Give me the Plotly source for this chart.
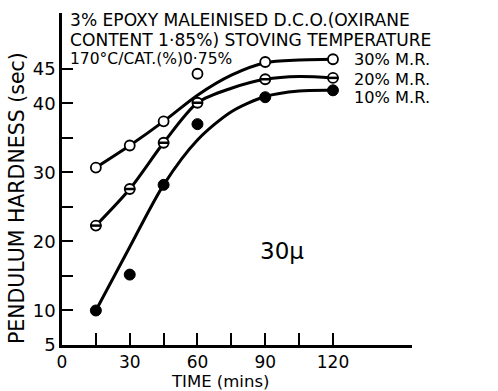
import plotly.graph_objects as go

# ---- data ----
time = [15, 30, 45, 60, 90, 120]
mr30 = [30.7, 33.9, 37.4, 44.3, 46.0, 46.4]
mr20 = [22.3, 27.6, 34.3, 40.1, 43.5, 43.7]
mr10 = [10.0, 15.2, 28.2, 37.0, 40.9, 41.9]

# hand-drawn smooth curves
curve_t = [15, 30, 45, 60, 75, 90, 105, 120]
curve30 = [30.7, 33.9, 37.4, 41.2, 44.1, 45.9, 46.3, 46.4]
curve20 = [22.3, 27.6, 34.3, 40.1, 42.2, 43.5, 43.9, 43.7]
curve10 = [10.0, 19.2, 28.2, 34.7, 38.8, 41.0, 41.8, 41.9]

x_ticks = [0, 15, 30, 45, 60, 75, 90, 105, 120]
x_labels = ["0", "", "30", "", "60", "", "90", "", "120"]
y_ticks = [5, 10, 15, 20, 25, 30, 35, 40, 45]
y_labels = ["5", "10", "", "20", "", "30", "", "40", "45"]

FONT = "DejaVu Sans"
fig = go.Figure()

for cy in (curve30, curve20, curve10):
    fig.add_trace(go.Scatter(x=curve_t, y=cy, mode="lines",
                             line=dict(color="black", width=3, shape="spline", smoothing=0.8),
                             hoverinfo="skip", showlegend=False))

fig.add_trace(go.Scatter(x=time, y=mr30, mode="markers",
                         marker=dict(symbol="circle", size=10, color="white",
                                     line=dict(color="black", width=1.8)),
                         showlegend=False))
fig.add_trace(go.Scatter(x=time, y=mr20, mode="markers",
                         marker=dict(symbol="circle", size=10, color="white",
                                     line=dict(color="black", width=1.8)),
                         showlegend=False))
fig.add_trace(go.Scatter(x=time, y=mr20, mode="markers",
                         marker=dict(symbol="line-ew", size=8,
                                     line=dict(color="black", width=2.5)),
                         showlegend=False))
fig.add_trace(go.Scatter(x=time, y=mr10, mode="markers",
                         marker=dict(symbol="circle", size=11, color="black",
                                     line=dict(color="black", width=1)),
                         showlegend=False))

# (paper x, paper y, text, size) ; plot area is 62..412 px wide, 13..345 px tall
ann = [
    (0.017, (345 - 19.5) / 332, "3% EPOXY MALEINISED D.C.O.(OXIRANE", 17.1),
    (0.017, (345 - 39.5) / 332, "CONTENT 1·85%) STOVING TEMPERATURE", 17.1),
    (0.017, (345 - 59.5) / 332, "170°C/CAT.(%)0·75%", 15.5),
    (0.829, (345 - 60.0) / 332, "30% M.R.", 16.2),
    (0.829, (345 - 79.0) / 332, "20% M.R.", 16.2),
    (0.829, (345 - 98.0) / 332, "10% M.R.", 16.2),
    (0.56, 0.283, "30μ", 23),
]
annotations = []
for x, y, t, s in ann:
    annotations.append(dict(xref="paper", yref="paper", x=x, y=y, text=t,
                            showarrow=False, xanchor="left", yanchor="middle",
                            font=dict(family=FONT, size=s, color="black")))
# axis titles
annotations.append(dict(xref="paper", yref="paper", x=0.451, y=(345 - 381) / 332,
                        text="TIME (mins)",
                        showarrow=False, xanchor="center", yanchor="middle",
                        font=dict(family=FONT, size=16.5, color="black")))
annotations.append(dict(xref="paper", yref="paper", x=-0.128, y=0.443,
                        text="PENDULUM HARDNESS (sec)", textangle=-90,
                        showarrow=False, xanchor="center", yanchor="middle",
                        font=dict(family=FONT, size=20.5, color="black")))

fig.update_layout(
    width=498, height=391,
    margin=dict(l=62, r=86, t=13, b=46),
    paper_bgcolor="white", plot_bgcolor="white",
    font=dict(family=FONT, color="black", size=17),
    annotations=annotations,
    xaxis=dict(range=[0, 155], tickvals=x_ticks, ticktext=x_labels,
               showline=True, linecolor="black", linewidth=2.5,
               ticks="inside", ticklen=12, tickwidth=2, tickcolor="black",
               showgrid=False, zeroline=False,
               tickfont=dict(family=FONT, size=17)),
    yaxis=dict(range=[5, 53.1], tickvals=y_ticks, ticktext=y_labels,
               showline=True, linecolor="black", linewidth=2.5,
               ticks="inside", ticklen=11, tickwidth=2, tickcolor="black",
               showgrid=False, zeroline=False,
               tickfont=dict(family=FONT, size=18)),
)

fig.write_html("out.html")
